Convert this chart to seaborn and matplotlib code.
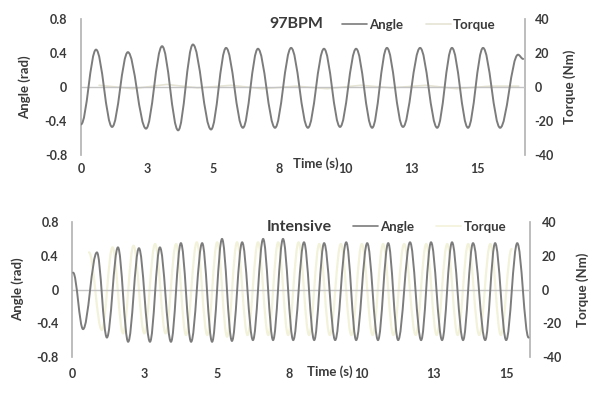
import matplotlib
matplotlib.use("Agg")
import matplotlib.pyplot as plt
from matplotlib.lines import Line2D
from matplotlib.path import Path
from matplotlib.patches import PathPatch
import seaborn as sns

# tick labels on the time axis (Excel-style category labels)
time_labels = ["0", "3", "5", "8", "10", "13", "15"]
time_tick_step = 2.55
angle_ticks = [-0.8, -0.4, 0, 0.4, 0.8]
torque_ticks = [-40, -20, 0, 20, 40]

# 97BPM panel: angle extrema (s, rad)
bpm_time = [0.0, 0.58, 1.20, 1.81, 2.51, 3.13, 3.75, 4.32, 5.02, 5.60, 6.25,
            6.83, 7.49, 8.11, 8.76, 9.38, 10.00, 10.62, 11.24, 11.81, 12.43,
            13.09, 13.75, 14.32, 14.94, 15.52, 16.18, 16.87, 17.07]
bpm_angle = [-0.44, 0.44, -0.47, 0.41, -0.49, 0.48, -0.51, 0.50, -0.50, 0.46,
             -0.48, 0.45, -0.48, 0.46, -0.48, 0.45, -0.47, 0.45, -0.48, 0.46,
             -0.47, 0.46, -0.48, 0.46, -0.48, 0.46, -0.48, 0.38, 0.33]
bpm_torque_time = [0.7, 2.0, 3.3, 4.5, 5.8, 7.0, 8.3, 9.5, 10.8, 12.0, 13.3, 14.5, 15.8, 16.9]
bpm_torque = [1.0, -1.0, 1.5, -0.5, 1.0, -1.0, 0.5, -1.0, 1.0, -0.5, 1.0, -1.0, 0.5, 0.5]

# Intensive panel: angle extrema (s, rad)
int_time = [0.04, 0.39, 0.88, 1.23, 1.62, 1.98, 2.36, 2.75, 3.10, 3.49, 3.84,
            4.20, 4.59, 4.94, 5.29, 5.64, 6.00, 6.38, 6.74, 7.09, 7.44, 7.80,
            8.18, 8.54, 8.89, 9.28, 9.67, 10.02, 10.41, 10.79, 11.15, 11.50,
            11.92, 12.31, 12.66, 13.05, 13.40, 13.79, 14.14, 14.57, 14.92,
            15.31, 15.70, 16.10]
int_angle = [0.20, -0.47, 0.44, -0.57, 0.50, -0.62, 0.49, -0.62, 0.50, -0.62,
             0.55, -0.62, 0.55, -0.62, 0.60, -0.61, 0.56, -0.60, 0.60, -0.60,
             0.60, -0.60, 0.56, -0.60, 0.55, -0.60, 0.56, -0.60, 0.55, -0.60,
             0.55, -0.60, 0.56, -0.60, 0.56, -0.60, 0.56, -0.60, 0.55, -0.60,
             0.55, -0.60, 0.55, -0.57]
int_torque_time = [0.6, 1.05, 1.43, 1.8, 2.17, 2.55, 2.93, 3.3, 3.67, 4.02, 4.4,
                   4.77, 5.12, 5.47, 5.82, 6.19, 6.56, 6.92, 7.27, 7.62, 7.99,
                   8.36, 8.72, 9.09, 9.48, 9.85, 10.22, 10.6, 10.97, 11.33,
                   11.71, 12.12, 12.49, 12.86, 13.23, 13.6, 13.97, 14.36,
                   14.75, 15.12, 15.5]
int_torque = [22, -24, 25, -26, 26, -26, 27, -26, 27, -27, 28, -27, 28, -28,
              28, -27, 28, -27, 28, -27, 28, -27, 27, -27, 27, -27, 27, -27,
              27, -27, 27, -27, 27, -27, 27, -27, 27, -27, 27, -27, 24]

ANGLE_C = "#7c7c7c"
TEXT_C = "#3a3a3a"
SPINE_C = "#b5b5b5"


def smooth_line(ax, t, v, color, lw, z):
    # smoothed line (like a spreadsheet "smoothed line") through the read points
    k = 0.3634
    verts = [(t[0], v[0])]
    codes = [Path.MOVETO]
    for i in range(1, len(t)):
        dt = t[i] - t[i - 1]
        verts += [(t[i - 1] + k * dt, v[i - 1]), (t[i] - k * dt, v[i]), (t[i], v[i])]
        codes += [Path.CURVE4] * 3
    ax.add_patch(PathPatch(Path(verts, codes), fill=False, edgecolor=color,
                           lw=lw, zorder=z, capstyle="round", joinstyle="round"))


def draw_panel(ax, t, ang, tq_t, tq, xmax, torque_color, title, title_pos,
               time_pos, leg_pos, smooth_torque, pads, label_x):
    ax2 = ax.twinx()
    ax.axhline(0, color="#c4c4c4", lw=1.0, zorder=1)
    if smooth_torque:
        smooth_line(ax2, tq_t, tq, torque_color, 1.6, 2)
    else:
        sns.lineplot(x=tq_t, y=tq, ax=ax2, color=torque_color, lw=1.2,
                     estimator=None, sort=False, zorder=2)
    smooth_line(ax, t, ang, ANGLE_C, 1.4, 3)
    ax.set_zorder(ax2.get_zorder() + 1)
    ax.patch.set_visible(False)

    ax.set_xlim(0, xmax)
    ax2.set_xlim(0, xmax)
    ax.set_ylim(-0.8, 0.8)
    ax2.set_ylim(-40, 40)
    ax.set_yticks(angle_ticks)
    ax.set_yticklabels(["-0.8", "-0.4", "0", "0.4", "0.8"])
    ax2.set_yticks(torque_ticks)
    ax2.set_yticklabels([str(v) for v in torque_ticks])
    ax.set_xticks([i * time_tick_step for i in range(len(time_labels))])
    ax.set_xticklabels(time_labels)

    for a in (ax, ax2):
        for s in a.spines.values():
            s.set_visible(False)
        a.tick_params(length=0, labelsize=9, labelcolor=TEXT_C)
        for lab in a.get_xticklabels() + a.get_yticklabels():
            lab.set_fontweight("bold")
    ax.spines["left"].set_visible(True)
    ax.spines["left"].set_color(SPINE_C)
    ax.spines["left"].set_bounds(-0.8, 0.8)
    ax2.spines["right"].set_visible(True)
    ax2.spines["right"].set_color(SPINE_C)
    ax.tick_params(axis="y", pad=pads[0])
    ax2.tick_params(axis="y", pad=pads[1])
    ax.tick_params(axis="x", pad=pads[2])

    ax.set_xlabel("")
    ax.set_ylabel("Angle (rad)", fontsize=9.5, fontweight="bold", color=TEXT_C,
                  va="center")
    ax2.set_ylabel("Torque (Nm)", fontsize=9.5, fontweight="bold", color=TEXT_C,
                   rotation=90, va="center")
    ax.yaxis.set_label_coords(label_x[0], 0.5)
    ax2.yaxis.set_label_coords(label_x[1], 0.5)

    ax.text(title_pos[0], title_pos[1], title, transform=ax.transAxes,
            ha="center", va="center", fontsize=11.5, fontweight="bold",
            color=TEXT_C)
    ax.text(time_pos[0], time_pos[1], "Time (s)", transform=ax.transAxes,
            ha="center", va="center", fontsize=9.5, fontweight="bold",
            color=TEXT_C)
    handles = [Line2D([], [], color=ANGLE_C, lw=1.2),
               Line2D([], [], color=torque_color, lw=1.2)]
    ax.legend(handles, ["Angle", "Torque"], loc="center left",
              bbox_to_anchor=leg_pos, ncol=2, frameon=False,
              prop={"size": 9.5, "weight": "bold"}, labelcolor=TEXT_C,
              handlelength=1.9, handletextpad=0.15, columnspacing=1.7,
              borderpad=0, borderaxespad=0)


sns.set_theme(style="white")
plt.rcParams["font.family"] = ["Lato", "DejaVu Sans"]

fig = plt.figure(figsize=(5.97, 3.94), dpi=100)
ax_top = fig.add_axes([0.1357, 0.6066, 0.7437, 0.3452])
ax_bot = fig.add_axes([0.1206, 0.0939, 0.7672, 0.3426])

draw_panel(ax_top, bpm_time, bpm_angle, bpm_torque_time, bpm_torque, 17.14,
           "#e6e4d4", "97BPM", (0.486, 0.96), (0.529, -0.06), (0.588, 0.955),
           False, (10, 7, 6), (-0.126, 1.101))
draw_panel(ax_bot, int_time, int_angle, int_torque_time, int_torque, 16.15,
           "#f2f2da", "Intensive", (0.496, 0.965), (0.563, -0.11), (0.613, 0.963),
           True, (9.5, 8.5, 8), (-0.118, 1.116))

fig.savefig("out.png", dpi=100, facecolor="white")
